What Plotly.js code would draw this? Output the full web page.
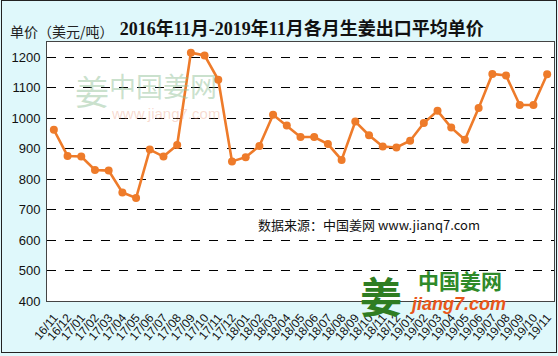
<!DOCTYPE html>
<html>
<head>
<meta charset="utf-8">
<script src="https://cdn.plot.ly/plotly-3.0.1.min.js"></script>
<style>
body{margin:0;background:#fff;}
#wrap{position:relative;width:558px;height:356px;overflow:hidden;}
#chart{position:absolute;left:0;top:0;width:558px;height:356px;}
#frame{position:absolute;left:1px;top:0px;width:554px;height:351px;border:1px solid #222;pointer-events:none;}
</style>
</head>
<body>
<div id="wrap"><div id="chart"></div><div id="frame"></div></div>
<script>
const months = ["16/11","16/12","17/01","17/02","17/03","17/04","17/05","17/06","17/07","17/08","17/09","17/10","17/11","17/12",
  "18/01","18/02","18/03","18/04","18/05","18/06","18/07","18/08","18/09","18/10","18/11","18/12",
  "19/01","19/02","19/03","19/04","19/05","19/06","19/07","19/08","19/09","19/10","19/11"];
const unitPrice = [962,876,874,830,828,756,738,897,874,912,1215,1206,1126,858,
  872,909,1011,976,938,938,915,863,989,944,907,904,
  926,984,1024,969,929,1033,1145,1140,1043,1043,1144];
const yTicks = [400,500,600,700,800,900,1000,1100,1200];

const L = 47, R = 554, T = 42, B = 301;
const W = R - L, H = B - T;
const px = x => (x - L) / W;
const py = y => (B - y) / H;

const trace = {
  x: months, y: unitPrice, type: 'scatter', mode: 'lines+markers',
  line: {color: '#EE7B2A', width: 2.6},
  marker: {color: '#EE7B2A', size: 8},
  hoverinfo: 'x+y'
};

const cjk = '"Noto Sans CJK SC", "Noto Sans", sans-serif';
const layout = {
  width: 558, height: 356,
  margin: {l: L, r: 558 - R, t: T, b: 356 - B},
  paper_bgcolor: '#dff8fb', plot_bgcolor: '#ffffff',
  showlegend: false,
  title: {text: '<b>2016年11月-2019年11月各月生姜出口平均单价</b>',
    font: {family: '"Liberation Serif", "Noto Sans CJK SC", serif', size: 18, color: '#111'},
    xref: 'container', x: 0.541, xanchor: 'center', yref: 'container', y: 1 - 29/356, yanchor: 'middle'},
  xaxis: {type: 'category', range: [-0.5, months.length - 0.5],
    tickmode: 'array', tickvals: months, ticktext: months,
    tickangle: -50, tickfont: {family: '"Liberation Sans", Arial, sans-serif', size: 12, color: '#111'},
    showgrid: false, showline: true, linecolor: '#444', linewidth: 1, mirror: true,
    ticks: 'outside', ticklen: 4, tickcolor: 'rgba(0,0,0,0)', fixedrange: true},
  yaxis: {range: [400, 1250], tickvals: yTicks, ticktext: yTicks.map(String),
    tickfont: {family: '"Liberation Sans", Arial, sans-serif', size: 13, color: '#111'},
    showgrid: true, gridcolor: '#000', griddash: 'dash', gridwidth: 1,
    showline: true, linecolor: '#444', linewidth: 1, mirror: true,
    ticks: 'outside', ticklen: 3, tickcolor: 'rgba(0,0,0,0)', zeroline: false, fixedrange: true},
  annotations: [
    {text: '单价（美元/吨）', xref: 'paper', yref: 'paper', x: px(62), y: py(31), xanchor: 'center', yanchor: 'middle',
      showarrow: false, font: {family: cjk, size: 14, color: '#222'}},
    {text: '中国姜网', xref: 'paper', yref: 'paper', x: px(163), y: py(85), xanchor: 'center', yanchor: 'middle',
      showarrow: false, font: {family: cjk, size: 27, color: 'rgba(150,195,155,0.5)'}},
    {text: '姜', xref: 'paper', yref: 'paper', x: px(92), y: py(90), xanchor: 'center', yanchor: 'middle',
      showarrow: false, font: {family: cjk, size: 34, color: 'rgba(150,195,155,0.5)'}},
    {text: 'www.jiang7.com', xref: 'paper', yref: 'paper', x: px(165), y: py(113), xanchor: 'center', yanchor: 'middle',
      showarrow: false, font: {family: '"Liberation Sans", Arial, sans-serif', size: 15, color: 'rgba(235,150,120,0.35)'}},
    {text: '数据来源：中国姜网 www.jianq7.com', xref: 'paper', yref: 'paper', x: px(369), y: py(225), xanchor: 'center', yanchor: 'middle',
      showarrow: false, font: {family: cjk, size: 13, color: '#111'}},
    {text: '<b>中国姜网</b>', xref: 'paper', yref: 'paper', x: px(460), y: py(280), xanchor: 'center', yanchor: 'middle',
      showarrow: false, font: {family: cjk, size: 21, color: '#2f8a2a'}},
    {text: '<b><i>jiang7.com</i></b>', xref: 'paper', yref: 'paper', x: px(458), y: py(304), xanchor: 'center', yanchor: 'middle',
      showarrow: false, font: {family: '"Liberation Sans", Arial, sans-serif', size: 18, color: '#e8561a'}},
    {text: '<b>姜</b>', xref: 'paper', yref: 'paper', x: px(381), y: py(294), xanchor: 'center', yanchor: 'middle',
      showarrow: false, font: {family: cjk, size: 42, color: '#2f7d22'}}
  ]
};

Plotly.newPlot('chart', [trace], layout, {displayModeBar: false, staticPlot: true});
</script>
</body>
</html>
